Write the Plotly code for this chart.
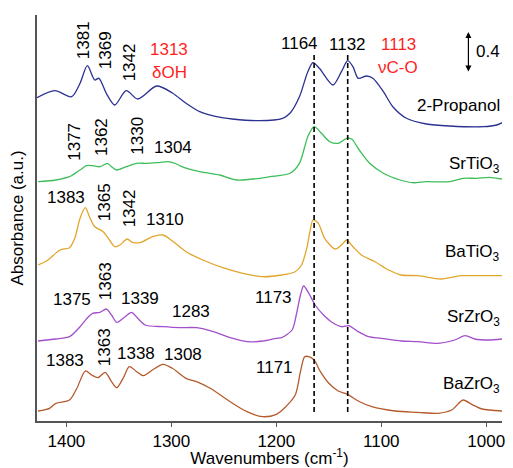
import plotly.graph_objects as go

# ---- data (stacked absorbance, arbitrary units; 0.4 a.u. = 41 units) ----
wn_propanol = [1428, 1411, 1395, 1387, 1380, 1373, 1369, 1362, 1354, 1343, 1332, 1314, 1299, 1286,
               1273, 1257, 1242, 1216, 1194, 1187, 1178, 1170, 1165, 1159, 1146, 1138, 1132, 1127,
               1122, 1114, 1108, 1098, 1089, 1076, 1057, 1035, 1003, 990, 985]
abs_propanol = [323.3, 330.3, 324.3, 337.7, 355.3, 341.0, 342.7, 327.7, 316.0, 330.3, 322.0, 335.0,
                328.0, 317.7, 309.3, 304.3, 302.0, 300.3, 302.7, 307.7, 324.3, 349.3, 358.3, 352.7,
                336.0, 349.3, 360.3, 354.3, 342.7, 345.0, 342.7, 329.3, 314.3, 302.7, 297.0, 295.0,
                294.3, 296.0, 298.3]

wn_srtio3 = [1427, 1410, 1397, 1387, 1381, 1375, 1368, 1361, 1357, 1352, 1343, 1333, 1324, 1314,
             1303, 1295, 1290, 1273, 1254, 1238, 1216, 1206, 1187, 1178, 1170, 1164, 1157, 1149,
             1141, 1133, 1128, 1121, 1111, 1098, 1082, 1070, 1057, 1035, 1022, 1009, 997, 985]
abs_srtio3 = [239.3, 241.0, 244.3, 251.0, 255.3, 255.3, 254.3, 257.7, 254.3, 251.0, 254.3, 257.7,
              257.7, 258.3, 259.3, 257.0, 254.3, 249.3, 246.0, 241.0, 242.7, 244.3, 247.7, 257.7,
              284.3, 294.3, 287.7, 279.3, 277.7, 282.7, 281.7, 271.0, 257.7, 247.7, 241.0, 238.3,
              239.3, 239.3, 242.7, 242.7, 243.7, 242.0]

wn_batio3 = [1427, 1419, 1406, 1397, 1392, 1387, 1382, 1378, 1373, 1365, 1359, 1354, 1349, 1342,
             1337, 1329, 1318, 1308, 1299, 1286, 1270, 1251, 1232, 1213, 1195, 1182, 1176, 1171,
             1168, 1165, 1160, 1154, 1144, 1138, 1133, 1127, 1119, 1106, 1093, 1081, 1065, 1043,
             1024, 1008, 985]
abs_batio3 = [156.0, 160.0, 171.0, 173.3, 182.7, 202.7, 213.3, 204.3, 194.3, 189.3, 181.0, 174.3,
              176.0, 182.0, 178.7, 178.7, 184.3, 186.0, 180.0, 169.3, 161.0, 153.3, 147.7, 144.3,
              146.0, 149.3, 156.0, 172.7, 189.3, 201.0, 197.7, 182.7, 172.0, 176.0, 181.0, 174.3,
              166.0, 159.3, 151.0, 146.0, 145.3, 142.0, 145.3, 145.3, 145.3]

wn_srzro3 = [1427, 1410, 1397, 1387, 1379, 1375, 1368, 1362, 1357, 1352, 1344, 1338, 1332, 1325,
             1308, 1292, 1276, 1260, 1244, 1228, 1213, 1200, 1195, 1185, 1181, 1177, 1174, 1169,
             1163, 1155, 1147, 1138, 1131, 1123, 1112, 1100, 1081, 1065, 1046, 1030, 1020, 1011,
             998, 985]
abs_srzro3 = [80.0, 82.0, 84.3, 94.3, 104.3, 107.7, 108.7, 112.0, 106.0, 98.7, 104.3, 108.7, 102.7,
              96.0, 94.3, 93.3, 93.3, 89.3, 83.3, 79.3, 80.0, 82.7, 83.3, 91.0, 106.0, 126.0, 135.0,
              127.7, 116.0, 106.0, 98.7, 94.3, 95.3, 90.0, 84.3, 82.7, 80.0, 79.3, 77.7, 81.0, 85.3,
              82.0, 81.0, 82.0]

wn_bazro3 = [1427, 1416, 1410, 1397, 1390, 1382, 1376, 1370, 1363, 1357, 1352, 1346, 1340, 1333,
             1327, 1318, 1308, 1299, 1286, 1276, 1263, 1244, 1228, 1213, 1200, 1192, 1182, 1177,
             1173, 1169, 1164, 1158, 1150, 1141, 1132, 1122, 1109, 1087, 1065, 1046, 1033, 1022,
             1014, 1004, 985]
abs_bazro3 = [10.0, 12.7, 17.7, 21.0, 32.7, 50.0, 46.0, 43.3, 48.7, 39.3, 33.3, 42.7, 54.3, 49.3,
              45.3, 51.0, 56.7, 52.7, 42.7, 39.3, 32.7, 19.3, 9.3, 4.3, 6.7, 13.3, 26.0, 49.3, 64.3,
              64.3, 61.0, 49.3, 37.7, 30.0, 26.7, 20.0, 14.3, 10.0, 8.7, 7.7, 11.0, 21.0, 16.7,
              12.0, 10.0]

series_names = ["2-Propanol", "SrTiO<sub>3</sub>", "BaTiO<sub>3</sub>", "SrZrO<sub>3</sub>", "BaZrO<sub>3</sub>"]
series_wn = [wn_propanol, wn_srtio3, wn_batio3, wn_srzro3, wn_bazro3]
series_abs = [abs_propanol, abs_srtio3, abs_batio3, abs_srzro3, abs_bazro3]
series_colors = ["#2B3192", "#3DBE5A", "#E1A52C", "#A24FCB", "#B55A2C"]
name_label_y = [316, 256, 168, 103, 36]

ref_lines = [1164, 1132]
x_ticks = [1400, 1300, 1200, 1100, 1000]

# peak labels: (text, wavenumber, height, angle, color)
peak_labels = [
    ("1381", 1384, 381, -90, "black"),
    ("1369", 1363, 371, -90, "black"),
    ("1342", 1340, 359, -90, "black"),
    ("1313", 1302, 372, 0, "#FF1F1F"),
    ("δOH", 1302, 349, 0, "#FF1F1F"),
    ("1164", 1178, 378, 0, "black"),
    ("1132", 1132, 377, 0, "black"),
    ("1113", 1084, 377, 0, "#FF1F1F"),
    ("νC-O", 1084, 354, 0, "#FF1F1F"),
    ("1377", 1393, 279, -90, "black"),
    ("1362", 1367, 284, -90, "black"),
    ("1330", 1333, 285, -90, "black"),
    ("1304", 1298, 274, 0, "black"),
    ("1383", 1400, 224, 0, "black"),
    ("1365", 1364, 219, -90, "black"),
    ("1342", 1340, 213, -90, "black"),
    ("1310", 1306, 202, 0, "black"),
    ("1375", 1395, 122, 0, "black"),
    ("1363", 1363, 140, -90, "black"),
    ("1339", 1330, 123, 0, "black"),
    ("1283", 1281, 110, 0, "black"),
    ("1173", 1203, 124, 0, "black"),
    ("1383", 1401, 61, 0, "black"),
    ("1363", 1364, 74, -90, "black"),
    ("1338", 1334, 68, 0, "black"),
    ("1308", 1289, 67, 0, "black"),
    ("1171", 1202, 54, 0, "black"),
]

FONT = "Liberation Sans, Arial, sans-serif"
FS = 17

fig = go.Figure()
for name, wn, ab, col in zip(series_names, series_wn, series_abs, series_colors):
    fig.add_trace(go.Scatter(x=wn, y=ab, mode="lines", name=name,
                             line=dict(color=col, width=1.3, shape="spline", smoothing=0.8),
                             showlegend=False, hoverinfo="skip"))

shapes = []
for w in ref_lines:
    shapes.append(dict(type="line", xref="x", yref="y", x0=w, x1=w, y0=9, y1=366,
                       line=dict(color="black", width=1.6, dash="5px,3px")))

annotations = []
for txt, w, h, ang, col in peak_labels:
    annotations.append(dict(x=w, y=h, xref="x", yref="y", text=txt, showarrow=False,
                            textangle=ang, xanchor="center", yanchor="middle",
                            font=dict(family=FONT, size=FS, color=col)))
for name, yy in zip(series_names, name_label_y):
    annotations.append(dict(x=985, y=yy, xref="x", yref="y", text=name, showarrow=False,
                            xanchor="right", yanchor="middle",
                            font=dict(family=FONT, size=FS, color="black")))
# scale bar
annotations.append(dict(x=1017, y=389, ax=1017, ay=348, xref="x", yref="y", axref="x", ayref="y",
                        text="", showarrow=True, arrowhead=2, arrowside="end+start",
                        arrowsize=1, arrowwidth=1.2, arrowcolor="black"))
annotations.append(dict(x=1012, y=370, xref="x", yref="y", text="0.4", showarrow=False,
                        xanchor="left", yanchor="middle",
                        font=dict(family=FONT, size=FS, color="black")))

fig.update_layout(
    width=513, height=468,
    margin=dict(l=37, r=11, t=15, b=47),
    paper_bgcolor="white", plot_bgcolor="white",
    font=dict(family=FONT, size=FS, color="black"),
    shapes=shapes, annotations=annotations,
    xaxis=dict(range=[1428, 985], tickvals=x_ticks, ticktext=[str(t) for t in x_ticks],
               ticks="outside", ticklen=4, tickcolor="#555555", tickwidth=1,
               ticklabelstandoff=0, automargin=False,
               showline=True, linecolor="#555555", linewidth=1.5, showgrid=False, zeroline=False,
               tickfont=dict(family=FONT, size=FS, color="black"),
               title=dict(text="Wavenumbers (cm<sup>-1</sup>)", standoff=3,
                          font=dict(family=FONT, size=FS, color="black"))),
    yaxis=dict(range=[0, 406], showticklabels=False, ticks="", showline=True, automargin=False,
               linecolor="#555555", linewidth=1.5, showgrid=False, zeroline=False,
               title=dict(text="Absorbance (a.u.)", standoff=7,
                          font=dict(family=FONT, size=FS, color="black"))),
)

fig.write_html("out.html")
